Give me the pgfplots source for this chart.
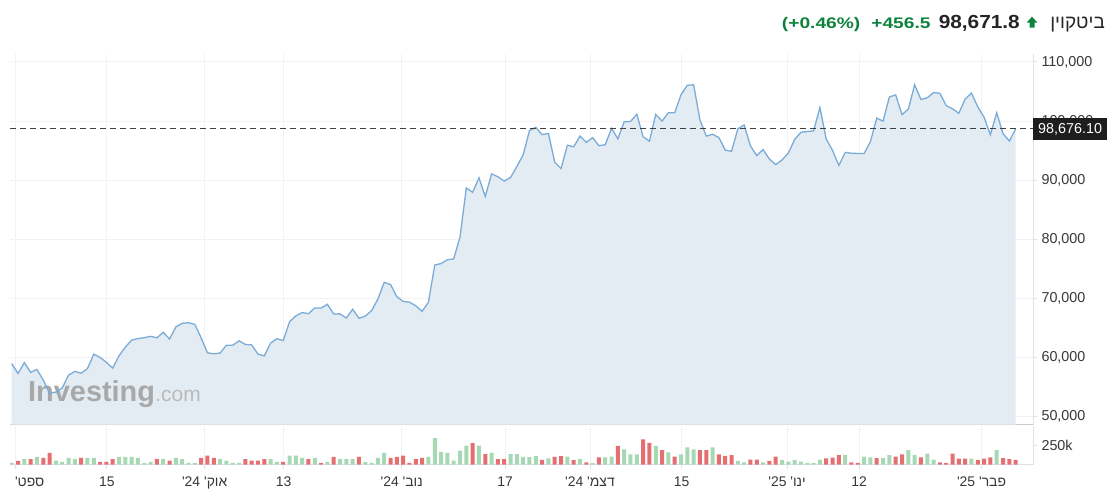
\documentclass[border=0pt]{standalone}
\usepackage{fontspec}
\usepackage{graphicx}
\usepackage{pgfplots}
\pgfplotsset{compat=1.18}
\usepackage{pgfplotstable}
\setmainfont{Liberation Sans}
\newfontfamily\lib{Liberation Sans}
\newfontfamily\hb[Script=Hebrew]{Liberation Sans}
\TeXXeTstate=1
\newcommand{\heb}[1]{{\hb\beginR #1\endR}}

\definecolor{areafill}{RGB}{227,235,243}
\definecolor{linec}{RGB}{122,172,215}
\definecolor{gridc}{RGB}{242,242,244}
\definecolor{axisc}{RGB}{204,204,204}
\definecolor{raxisc}{RGB}{222,225,234}
\definecolor{volg}{RGB}{166,216,180}
\definecolor{volr}{RGB}{229,110,112}
\definecolor{textc}{RGB}{55,55,55}
\definecolor{hgreen}{RGB}{12,130,60}
\definecolor{hdark}{RGB}{35,37,38}
\definecolor{boxc}{RGB}{30,30,30}
\definecolor{wmc}{RGB}{168,168,168}
\definecolor{wmc2}{RGB}{186,186,186}

\pgfplotstableread[row sep=\\]{
i p\\
0 58970\\ 1 57300\\ 2 59130\\ 3 57490\\ 4 57980\\ 5 56160\\ 6 53950\\ 7 54150\\ 8 54840\\ 9 57020\\
10 57650\\ 11 57340\\ 12 58130\\ 13 60570\\ 14 60000\\ 15 59180\\ 16 58200\\ 17 60300\\ 18 61760\\ 19 62950\\
20 63200\\ 21 63350\\ 22 63580\\ 23 63330\\ 24 64260\\ 25 63140\\ 26 65180\\ 27 65790\\ 28 65880\\ 29 65600\\
30 63330\\ 31 60800\\ 32 60630\\ 33 60750\\ 34 62070\\ 35 62060\\ 36 62820\\ 37 62220\\ 38 62130\\ 39 60580\\
40 60270\\ 41 62440\\ 42 63190\\ 43 62850\\ 44 66050\\ 45 67040\\ 46 67610\\ 47 67410\\ 48 68390\\ 49 68360\\
50 69000\\ 51 67370\\ 52 67380\\ 53 66680\\ 54 68160\\ 55 66640\\ 56 67010\\ 57 67930\\ 58 69910\\ 59 72720\\
60 72340\\ 61 70280\\ 62 69490\\ 63 69370\\ 64 68750\\ 65 67810\\ 66 69360\\ 67 75640\\ 68 75900\\ 69 76540\\
70 76690\\ 71 80370\\ 72 88700\\ 73 87950\\ 74 90400\\ 75 87250\\ 76 91060\\ 77 90580\\ 78 89850\\ 79 90460\\
80 92310\\ 81 94290\\ 82 98380\\ 83 98950\\ 84 97720\\ 85 97910\\ 86 93050\\ 87 91960\\ 88 95920\\ 89 95640\\
90 97460\\ 91 96410\\ 92 97200\\ 93 95840\\ 94 96000\\ 95 98770\\ 96 97000\\ 97 99900\\ 98 99920\\ 99 101170\\
100 97370\\ 101 96600\\ 102 101130\\ 103 100000\\ 104 101420\\ 105 101420\\ 106 104460\\ 107 106060\\ 108 106140\\ 109 100200\\
110 97460\\ 111 97760\\ 112 97220\\ 113 95100\\ 114 94880\\ 115 98690\\ 116 99350\\ 117 95790\\ 118 94160\\ 119 95180\\
120 93570\\ 121 92640\\ 122 93430\\ 123 94590\\ 124 96890\\ 125 98110\\ 126 98230\\ 127 98350\\ 128 102280\\ 129 96950\\
130 95040\\ 131 92490\\ 132 94700\\ 133 94560\\ 134 94520\\ 135 94520\\ 136 96530\\ 137 100500\\ 138 99990\\ 139 104080\\
140 104430\\ 141 101100\\ 142 102020\\ 143 106150\\ 144 103650\\ 145 103960\\ 146 104820\\ 147 104710\\ 148 102620\\ 149 102080\\
150 101330\\ 151 103730\\ 152 104740\\ 153 102410\\ 154 100650\\ 155 97700\\ 156 101400\\ 157 97870\\ 158 96620\\ 159 98676\\
}\price

\pgfplotstableread[row sep=\\]{
i v\\
0 22\\ 2 69\\ 4 100\\ 7 52\\ 8 35\\ 9 87\\ 10 69\\ 12 87\\ 13 87\\ 17 100\\ 18 100\\ 19 100\\ 20 87\\ 21 22\\ 22 35\\
24 69\\ 26 87\\ 27 69\\ 28 22\\ 29 22\\ 33 69\\ 34 52\\ 35 22\\ 36 22\\ 41 69\\ 42 35\\ 44 117\\ 45 117\\ 46 87\\ 48 87\\
50 35\\ 52 69\\ 53 69\\ 54 69\\ 56 35\\ 57 22\\ 58 87\\ 59 152\\ 66 100\\ 67 343\\ 68 165\\ 69 152\\ 70 52\\ 71 182\\ 72 247\\
74 247\\ 76 152\\ 79 135\\ 80 135\\ 81 100\\ 82 95\\ 83 110\\ 85 80\\ 88 103\\ 90 70\\ 92 19\\ 94 93\\ 95 103\\ 97 196\\
98 131\\ 99 131\\ 102 243\\ 104 159\\ 106 131\\ 107 224\\ 108 196\\ 111 224\\ 115 47\\ 116 28\\ 119 28\\ 122 56\\ 123 37\\
124 56\\ 125 37\\ 126 19\\ 127 19\\ 128 65\\ 132 121\\ 135 103\\ 136 93\\ 138 84\\ 139 121\\ 142 187\\ 143 121\\ 145 140\\
146 65\\ 152 75\\ 156 187\\
}\volup

\pgfplotstableread[row sep=\\]{
i v\\
1 48\\ 3 69\\ 5 87\\ 6 152\\ 11 87\\ 14 35\\ 15 35\\ 16 69\\ 23 69\\ 25 52\\ 30 87\\ 31 117\\ 32 87\\ 37 69\\ 38 52\\
39 52\\ 40 69\\ 43 35\\ 47 69\\ 49 22\\ 51 100\\ 55 100\\ 60 87\\ 61 100\\ 62 117\\ 63 22\\ 64 69\\ 65 87\\ 73 278\\
75 135\\ 77 69\\ 78 69\\ 84 60\\ 86 100\\ 87 110\\ 89 56\\ 91 28\\ 93 93\\ 96 243\\ 100 327\\ 101 280\\ 103 187\\
105 103\\ 109 187\\ 110 187\\ 112 131\\ 113 112\\ 114 121\\ 117 65\\ 118 65\\ 120 47\\ 121 103\\ 129 79\\ 130 89\\
131 121\\ 133 28\\ 134 20\\ 137 84\\ 140 103\\ 141 131\\ 144 93\\ 147 28\\ 148 19\\ 149 140\\ 150 75\\ 151 75\\
153 56\\ 154 75\\ 155 93\\ 157 84\\ 158 70\\ 159 60\\
}\voldn

\begin{document}
\begin{tikzpicture}[x=1bp,y=-1bp]
\useasboundingbox (0,0) rectangle (1116,499);
\coordinate (PA) at (10,424.7);
\coordinate (VA) at (10,464.5);

% header
\node[anchor=base east, inner sep=0, text=hdark, font=\hb\fontsize{19}{22}\selectfont] at (1105,28.3) {\beginR ביטקוין\endR};
\fill[hgreen] (1026.7,22.6) -- (1032,16.7) -- (1037.3,22.6) -- (1034.5,22.6) -- (1034.5,27.6) -- (1029.5,27.6) -- (1029.5,22.6) -- cycle;
\node[anchor=base east, inner sep=0, text=hdark, font=\lib\bfseries\fontsize{19}{22}\selectfont] at (1020,28.3) {\scalebox{1.1}[1]{98,671.8}};
\node[anchor=base east, inner sep=0, text=hgreen, font=\lib\bfseries\fontsize{15.4}{18}\selectfont] at (930.7,28.3) {\scalebox{1.25}[1]{+456.5}};
\node[anchor=base east, inner sep=0, text=hgreen, font=\lib\bfseries\fontsize{15.4}{18}\selectfont] at (860.5,28.3) {\scalebox{1.25}[1]{(+0.46\%)}};

% price pane
\begin{axis}[
  at={(PA)}, anchor=south west,
  width=1023bp, height=370.7bp, scale only axis,
  xmin=-0.27, xmax=161.75, ymin=48629, ymax=111354,
  clip mode=individual,
  axis x line*=bottom, axis y line*=right,
  x axis line style={draw=axisc, line width=1bp},
  y axis line style={draw=raxisc, line width=1bp},
  xtick={0.63,15.09,30.57,43.08,61.77,78.13,91.59,106.1,122.8,134.2,153.6},
  xticklabels={}, xtick style={draw=none},
  ytick={50000,60000,70000,80000,90000,100000,110000},
  scaled y ticks=false,
  yticklabel pos=right,
  tick align=outside, major tick length=4bp,
  ytick style={draw=raxisc, line width=1bp},
  /pgf/number format/assume math mode=true,
  /pgf/number format/fixed,
  /pgf/number format/precision=0,
  /pgf/number format/1000 sep={,},
  ticklabel style={font=\lib\fontsize{14.4}{17}\selectfont, text=textc},
  yticklabel style={xshift=1bp},
  xmajorgrids, ymajorgrids,
  major grid style={draw=gridc, line width=1bp},
]
\addplot[draw=none, fill=areafill] table[x=i,y=p]{\price} \closedcycle;
\node[anchor=base west, inner sep=0, text=wmc, font=\lib\bfseries\fontsize{29}{31}\selectfont] (wm) at (axis cs:2.58,52470) {Investing};
\node[anchor=base west, inner sep=0, text=wmc2, font=\lib\fontsize{21}{24}\selectfont] at (wm.base east) {.com};
\addplot[draw=linec, line width=1.3bp] table[x=i,y=p]{\price};
\draw[draw=boxc!85, dash pattern=on 6bp off 4bp, line width=1.1bp] (axis cs:-0.3,98676) -- (axis cs:161.75,98676);
\node[fill=boxc, text=white, anchor=west, inner xsep=5bp, inner ysep=0bp, minimum height=21.7bp,
      font=\lib\fontsize{14.4}{17}\selectfont] at (axis cs:161.75,98676) {98,676.10};
\end{axis}

% volume pane
\begin{axis}[
  at={(VA)}, anchor=south west,
  width=1023bp, height=38.5bp, scale only axis,
  xmin=-0.27, xmax=161.75, ymin=0, ymax=501,
  axis x line*=bottom, axis y line*=right,
  x axis line style={draw=raxisc, line width=1bp},
  y axis line style={draw=raxisc, line width=1bp},
  xtick={0.63,15.09,30.57,43.08,61.77,78.13,91.59,106.1,122.8,134.2,153.6},
  xticklabels={{\hspace*{28bp}'\heb{ספט}},{15},{24' '\heb{אוק}},{13},{24' '\heb{נוב}},{17},{24' '\heb{דצמ}},{15},{25' '\heb{ינו}},{12},{25' '\heb{פבר}}},
  ytick={250}, yticklabels={250k},
  yticklabel pos=right,
  tick align=outside, major tick length=4bp,
  tick style={draw=raxisc, line width=1bp},
  ticklabel style={font=\lib\fontsize{14.4}{17}\selectfont, text=textc},
  xticklabel style={font=\hb\fontsize{14}{17}\selectfont, yshift=-4.5bp},
  yticklabel style={xshift=1bp},
  xmajorgrids,
  major grid style={draw=gridc, line width=1bp},
]
\addplot[ybar, bar shift=0pt, bar width=4bp, fill=volg, draw=none] table[x=i,y=v]{\volup};
\addplot[ybar, bar shift=0pt, bar width=4bp, fill=volr, draw=none] table[x=i,y=v]{\voldn};
\end{axis}
\end{tikzpicture}
\end{document}
